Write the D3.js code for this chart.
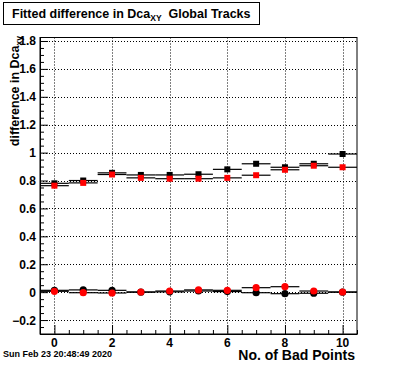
<!DOCTYPE html>
<html lang="en">
    <head>
        <meta charset="utf-8">
        <title>Fitted difference in Dca</title>
        <script type="text/javascript" src="https://cdn.jsdelivr.net/npm/d3@7"></script>
        <style type="text/css">
            body { margin: 0; background: white; }
            text { font-family: "Liberation Sans", Arial, Helvetica, sans-serif; font-weight: bold; }
        </style>
    </head>
    <body>
        <script type="text/javascript">
            //Width and height
            var w = 396;
            var h = 372;

            // data
            var badPoints  = [0, 1, 2, 3, 4, 5, 6, 7, 8, 9, 10];
            var blackUpper = [0.78, 0.80, 0.855, 0.84, 0.84, 0.845, 0.88, 0.92, 0.895, 0.92, 0.99];
            var redUpper   = [0.763, 0.783, 0.843, 0.819, 0.813, 0.813, 0.819, 0.838, 0.877, 0.906, 0.895];
            var blackLower = [0.013, 0.016, 0.013, 0.0, 0.002, 0.008, 0.004, -0.004, -0.011, -0.008, 0.0];
            var redLower   = [0.006, -0.004, -0.006, 0.001, 0.008, 0.016, 0.013, 0.032, 0.039, 0.008, 0.001];
            var xTicks = [0, 2, 4, 6, 8, 10];
            var yTicks = [-0.2, 0, 0.2, 0.4, 0.6, 0.8, 1, 1.2, 1.4, 1.6, 1.8];

            // frame edges (window.top is taken, so prefix them)
            var fLeft = 40, fRight = 357, fTop = 37.5, fBottom = 334;

            var x = d3.scaleLinear().domain([-0.5, 10.5]).range([fLeft, fRight]);
            var y = d3.scaleLinear().domain([-0.3, 1.825]).range([fBottom, fTop]);

            var svg = d3.select("body")
                        .append("svg")
                        .attr("width", w)
                        .attr("height", h);

            svg.append("rect").attr("width", w).attr("height", h).attr("fill", "white");

            // grid
            svg.selectAll("line.gx")
                .data(xTicks)
                .enter()
                .append("line")
                .attr("x1", function(d) { return Math.round(x(d)) + 0.5; })
                .attr("x2", function(d) { return Math.round(x(d)) + 0.5; })
                .attr("y1", fTop)
                .attr("y2", fBottom)
                .attr("stroke", "black")
                .attr("stroke-dasharray", "1,2");
            svg.selectAll("line.gy")
                .data(yTicks)
                .enter()
                .append("line")
                .attr("x1", fLeft)
                .attr("x2", fRight)
                .attr("y1", function(d) { return Math.round(y(d)) + 0.5; })
                .attr("y2", function(d) { return Math.round(y(d)) + 0.5; })
                .attr("stroke", "black")
                .attr("stroke-dasharray", "1,2");

            // axes, ticks drawn inside the frame like ROOT
            var xAxis = d3.axisBottom(x)
                .tickValues(d3.range(-0.5, 10.51, 0.5))
                .tickSizeInner(-4)
                .tickSizeOuter(0)
                .tickFormat("");
            var gx = svg.append("g").attr("transform", "translate(0," + fBottom + ")").call(xAxis);
            gx.selectAll(".tick line")
                .attr("y2", function(d) { return (d % 2 === 0) ? -9 : -4; });

            var yMinor = d3.range(-0.3, 1.826, 0.05).map(function(d) { return Math.round(d * 100) / 100; });
            var yAxis = d3.axisLeft(y)
                .tickValues(yMinor)
                .tickSizeInner(-4)
                .tickSizeOuter(0)
                .tickFormat("");
            var gy = svg.append("g").attr("transform", "translate(" + fLeft + ",0)").call(yAxis);
            gy.selectAll(".tick line")
                .attr("x2", function(d) { return (Math.abs(Math.round(d * 5) - d * 5) < 1e-6) ? 8 : 4; });

            svg.selectAll(".domain").attr("stroke", "black");

            // tick labels
            svg.selectAll("text.xl")
                .data(xTicks)
                .enter()
                .append("text")
                .attr("x", function(d) { return x(d); })
                .attr("y", 347)
                .attr("text-anchor", "middle")
                .attr("font-size", 12)
                .text(function(d) { return d; });
            svg.selectAll("text.yl")
                .data(yTicks)
                .enter()
                .append("text")
                .attr("x", 36)
                .attr("y", function(d) { return y(d) + 4.5; })
                .attr("text-anchor", "end")
                .attr("font-size", 12)
                .text(function(d) { return d < 0 ? "\u2212" + Math.abs(d) : d; });

            // frame
            svg.append("rect")
                .attr("x", fLeft)
                .attr("y", fTop)
                .attr("width", fRight - fLeft)
                .attr("height", fBottom - fTop)
                .attr("fill", "none")
                .attr("stroke", "black");

            // series
            function drawSeries(vals, color, shape) {
                var pts = badPoints.map(function(b, i) { return { b: b, v: vals[i] }; });
                var g = svg.append("g");
                g.selectAll("line")
                    .data(pts)
                    .enter()
                    .append("line")
                    .attr("x1", function(d) { return x(d.b - 0.5); })
                    .attr("x2", function(d) { return x(d.b + 0.5); })
                    .attr("y1", function(d) { return y(d.v); })
                    .attr("y2", function(d) { return y(d.v); })
                    .attr("stroke", "black")
                    .attr("stroke-width", 1.2);
                if(shape == "square") {
                    g.selectAll("rect")
                        .data(pts)
                        .enter()
                        .append("rect")
                        .attr("x", function(d) { return x(d.b) - 3; })
                        .attr("y", function(d) { return y(d.v) - 3; })
                        .attr("width", 6)
                        .attr("height", 6)
                        .attr("fill", color);
                } else {
                    g.selectAll("circle")
                        .data(pts)
                        .enter()
                        .append("circle")
                        .attr("cx", function(d) { return x(d.b); })
                        .attr("cy", function(d) { return y(d.v); })
                        .attr("r", 3.6)
                        .attr("fill", color);
                }
            }
            drawSeries(blackUpper, "black", "square");
            drawSeries(redUpper, "red", "square");
            drawSeries(blackLower, "black", "circle");
            drawSeries(redLower, "red", "circle");

            // title box, sized to its text
            var titleBox = svg.append("rect")
                .attr("x", 3.5)
                .attr("y", 2.5)
                .attr("height", 22)
                .attr("fill", "white")
                .attr("stroke", "black");
            var title = svg.append("text")
                .attr("x", 12)
                .attr("y", 18)
                .attr("font-size", 12.5);
            title.append("tspan").text("Fitted difference in Dca");
            title.append("tspan").attr("font-size", 8.5).attr("dy", 3).text("XY");
            title.append("tspan").attr("dy", -3).text("\u00a0\u00a0Global Tracks");
            var tw = title.node().getComputedTextLength();
            titleBox.attr("width", Math.round(tw + 17));

            // y axis title
            var yt = svg.append("text")
                .attr("transform", "translate(19,36) rotate(-90)")
                .attr("text-anchor", "end")
                .attr("font-size", 12.5);
            yt.append("tspan").text("difference in Dca");
            yt.append("tspan").attr("font-size", 8.5).attr("dy", 3).text("xy");

            // x axis title
            svg.append("text")
                .attr("x", 355)
                .attr("y", 360)
                .attr("text-anchor", "end")
                .attr("font-size", 14)
                .text("No. of Bad Points");

            // date stamp
            svg.append("text")
                .attr("x", 3)
                .attr("y", 357)
                .attr("font-size", 9)
                .text("Sun Feb 23 20:48:49 2020");
        </script>
    </body>
</html>
